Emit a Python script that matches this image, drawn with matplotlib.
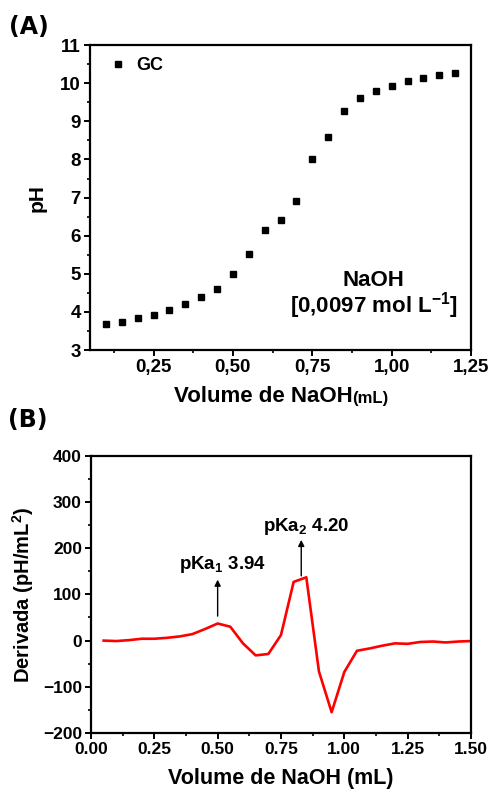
import matplotlib
matplotlib.use("Agg")
import matplotlib.pyplot as plt
from matplotlib.ticker import MultipleLocator, FuncFormatter

plt.rcParams['font.family'] = ['Liberation Sans', 'DejaVu Sans']
plt.rcParams['font.weight'] = 'bold'
plt.rcParams['mathtext.fontset'] = 'custom'
plt.rcParams['mathtext.rm'] = 'Liberation Sans:bold'
plt.rcParams['mathtext.bf'] = 'Liberation Sans:bold'
plt.rcParams['mathtext.it'] = 'Liberation Sans:bold'
plt.rcParams['mathtext.default'] = 'rm'

# Panel A data: titration curve
volume_a = [0.10, 0.15, 0.20, 0.25, 0.30, 0.35, 0.40, 0.45, 0.50, 0.55, 0.60, 0.65,
            0.70, 0.75, 0.80, 0.85, 0.90, 0.95, 1.00, 1.05, 1.10, 1.15, 1.20]
ph_a = [3.68, 3.74, 3.83, 3.93, 4.04, 4.20, 4.39, 4.59, 4.99, 5.51, 6.16, 6.42,
        6.91, 8.01, 8.58, 9.28, 9.62, 9.79, 9.94, 10.05, 10.15, 10.22, 10.26]

# Panel B data: derivative curve
volume_b = [0.05, 0.10, 0.15, 0.20, 0.25, 0.30, 0.35, 0.40, 0.45, 0.50, 0.55, 0.60,
            0.65, 0.70, 0.75, 0.80, 0.85, 0.90, 0.95, 1.00, 1.05, 1.10, 1.15, 1.20,
            1.25, 1.30, 1.35, 1.40, 1.45, 1.50]
deriv_b = [0, -1, 1, 4, 4, 6, 9, 14, 25, 37, 30, -6,
           -32, -29, 12, 127, 137, -67, -155, -68, -22, -17, -11, -6,
           -7, -3, -2, -4, -2, -1]

pka_labels = [r'pKa$_{\mathbf{1}}$ 3.94', r'pKa$_{\mathbf{2}}$ 4.20']
pka_x = [0.50, 0.83]
pka_arrow = [(53, 132), (140, 218)]
pka_text_xy = [(0.52, 164), (0.85, 248)]

fig = plt.figure(figsize=(4.91, 7.92), dpi=100)

def style(ax, tsize):
    for s in ax.spines.values():
        s.set_linewidth(1.6)
    ax.tick_params(which='major', direction='out', length=4.5, width=1.4,
                   labelsize=tsize, pad=2)
    ax.tick_params(which='minor', direction='out', length=2.5, width=1.2)
    ax.tick_params(top=False, right=False, which='both')
    for lab in ax.get_xticklabels() + ax.get_yticklabels():
        lab.set_fontweight('bold')

# ---------- Panel A ----------
axA = fig.add_axes([0.1833, 0.558, 0.776, 0.385])
axA.plot(volume_a, ph_a, 's', color='black', markersize=4.8, label='GC')
axA.set_xlim(0.05, 1.25)
axA.set_ylim(3, 11)
axA.xaxis.set_major_locator(MultipleLocator(0.25))
axA.xaxis.set_minor_locator(MultipleLocator(0.125))
axA.yaxis.set_major_locator(MultipleLocator(1))
axA.yaxis.set_minor_locator(MultipleLocator(0.5))
axA.xaxis.set_major_formatter(FuncFormatter(lambda v, p: f"{v:.2f}".replace('.', ',')))
style(axA, 13.5)
axA.set_ylabel('pH', fontsize=15, fontweight='bold', labelpad=10)
leg = axA.legend(loc='upper left', frameon=False, fontsize=13, handletextpad=0.55,
                 borderaxespad=0.0, handlelength=1.0, bbox_to_anchor=(0.03, 0.985))
axA.text(0.745, 0.18, 'NaOH\n[0,0097 mol L$^{\\mathbf{-1}}$]', transform=axA.transAxes,
         ha='center', va='center', fontsize=16, fontweight='bold', linespacing=0.95)
fig.text(353 / 491, 1 - 397 / 792, 'Volume de NaOH', ha='right', va='center',
         fontsize=16, fontweight='bold')
fig.text(352 / 491, 1 - 399 / 792, '(mL)', ha='left', va='center',
         fontsize=12, fontweight='bold')
fig.text(9 / 491, 1 - 27 / 792, '(A)', ha='left', va='center', fontsize=17,
         fontweight='bold', family='DejaVu Sans')

# ---------- Panel B ----------
axB = fig.add_axes([0.1853, 0.0745, 0.7739, 0.3500])
axB.plot(volume_b, deriv_b, '-', color='#ff0000', linewidth=1.9)
axB.set_xlim(0, 1.5)
axB.set_ylim(-200, 400)
axB.xaxis.set_major_locator(MultipleLocator(0.25))
axB.xaxis.set_minor_locator(MultipleLocator(0.125))
axB.yaxis.set_major_locator(MultipleLocator(100))
axB.yaxis.set_minor_locator(MultipleLocator(50))
axB.xaxis.set_major_formatter(FuncFormatter(lambda v, p: f"{v:.2f}"))
style(axB, 12.5)
axB.set_xlabel('Volume de NaOH (mL)', fontsize=15.5, fontweight='bold', labelpad=8)
axB.set_ylabel('Derivada (pH/mL$^{\\mathbf{2}}$)', fontsize=14.5, fontweight='bold', labelpad=5)
for lab, x, (y0, y1), (tx, ty) in zip(pka_labels, pka_x, pka_arrow, pka_text_xy):
    axB.annotate('', xy=(x, y1), xytext=(x, y0),
                 arrowprops=dict(arrowstyle='-|>', color='black', lw=1.0,
                                 mutation_scale=9, shrinkA=0, shrinkB=0))
    axB.text(tx, ty, lab, ha='center', va='center', fontsize=13.5, fontweight='bold')
fig.text(8 / 491, 1 - 420 / 792, '(B)', ha='left', va='center', fontsize=17,
         fontweight='bold', family='DejaVu Sans')

fig.savefig('out.png', dpi=100)
